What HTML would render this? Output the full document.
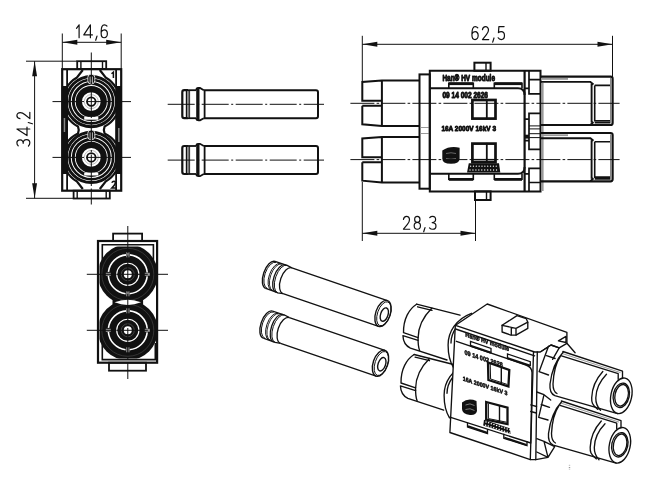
<!DOCTYPE html><html><head><meta charset="utf-8"><style>html,body{margin:0;padding:0;background:#fff;}svg{display:block;filter:grayscale(100%);}</style></head><body><svg width="650" height="487" viewBox="0 0 650 487"><rect x="0" y="0" width="650" height="487" fill="#fff"/>
<line x1="62.3" y1="33.5" x2="62.3" y2="69" stroke="#111" stroke-width="1.0" />
<line x1="121.2" y1="33.5" x2="121.2" y2="69" stroke="#111" stroke-width="1.0" />
<line x1="62.3" y1="42.3" x2="121.2" y2="42.3" stroke="#111" stroke-width="1.0" />
<polygon points="62.3,42.3 77.30,39.85 77.30,44.75" fill="#111"/>
<polygon points="121.2,42.3 106.20,44.75 106.20,39.85" fill="#111"/>
<g transform="translate(0,24.5)" fill="none" stroke="#111" stroke-width="1.2" stroke-linecap="round" stroke-linejoin="round"><path transform="translate(76.5,0.3) scale(1.0,0.98)" d="M0,3.6 L2.6,0 L2.6,13.2" vector-effect="non-scaling-stroke"/><path transform="translate(83.8,0.3) scale(1.0,0.98)" d="M6.6,13.2 L6.6,0 L0,10.3 L8.6,10.3" vector-effect="non-scaling-stroke"/><path transform="translate(95.6,0.3) scale(1.0,0.98)" d="M1.4,11.6 L0.1,15.8" vector-effect="non-scaling-stroke"/><path transform="translate(100.8,0.3) scale(0.9,0.98)" d="M6.9,1.3 C6.2,0.4 5.2,0 4.0,0 C1.6,0 0.4,2.6 0.4,6.8 L0.4,8.8 C0.4,11.8 1.8,13.2 3.8,13.2 C5.9,13.2 7.3,11.7 7.3,9.2 C7.3,6.8 5.9,5.2 3.9,5.2 C2.3,5.2 1.0,6.1 0.4,7.6" vector-effect="non-scaling-stroke"/></g>
<line x1="26" y1="61.2" x2="77" y2="61.2" stroke="#111" stroke-width="1.0" />
<line x1="26" y1="198.3" x2="73.5" y2="198.3" stroke="#111" stroke-width="1.0" />
<line x1="34.6" y1="61.2" x2="34.6" y2="198.3" stroke="#111" stroke-width="1.0" />
<polygon points="34.6,61.2 37.05,76.20 32.15,76.20" fill="#111"/>
<polygon points="34.6,198.3 32.15,183.30 37.05,183.30" fill="#111"/>
<g transform="translate(16.6,146.5) rotate(-90)" fill="none" stroke="#111" stroke-width="1.2" stroke-linecap="round" stroke-linejoin="round"><path transform="translate(0.3,0.3) scale(0.9,0.98)" d="M0.5,1.3 C1.3,0.4 2.5,0 3.7,0 C5.7,0 7.0,1.3 7.0,3.3 C7.0,5.3 5.6,6.4 3.2,6.4 C5.9,6.4 7.4,7.8 7.4,9.8 C7.4,11.9 5.9,13.2 3.7,13.2 C2.3,13.2 1.1,12.7 0.2,11.8" vector-effect="non-scaling-stroke"/><path transform="translate(10.9,0.3) scale(1.0,0.98)" d="M6.6,13.2 L6.6,0 L0,10.3 L8.6,10.3" vector-effect="non-scaling-stroke"/><path transform="translate(22.6,0.3) scale(1.0,0.98)" d="M1.4,11.6 L0.1,15.8" vector-effect="non-scaling-stroke"/><path transform="translate(27.5,0.3) scale(0.9,0.98)" d="M0.4,3.1 C0.7,1.1 2.0,0 3.8,0 C5.8,0 7.1,1.4 7.1,3.5 C7.1,5.2 6.4,6.5 4.8,8.3 L0.4,13.2 L7.4,13.2" vector-effect="non-scaling-stroke"/></g>
<rect x="77.2" y="61.2" width="29" height="7.8" fill="none" stroke="#111" stroke-width="1.8"/>
<line x1="80.9" y1="61.2" x2="80.9" y2="69" stroke="#111" stroke-width="1.4" />
<line x1="102.5" y1="61.2" x2="102.5" y2="69" stroke="#111" stroke-width="1.4" />
<rect x="73.6" y="190.7" width="36.2" height="7.8" fill="none" stroke="#111" stroke-width="1.8"/>
<line x1="77.2" y1="190.7" x2="77.2" y2="198.5" stroke="#111" stroke-width="1.4" />
<line x1="106.2" y1="190.7" x2="106.2" y2="198.5" stroke="#111" stroke-width="1.4" />
<rect x="61.8" y="86" width="5.5" height="88" fill="#111"/>
<rect x="115.9" y="86" width="5.5" height="88" fill="#111"/>
<rect x="63.6" y="118" width="1.6" height="14" fill="#888"/><rect x="118" y="128" width="1.6" height="14" fill="#888"/>
<rect x="62.2" y="69.2" width="59" height="121.5" fill="none" stroke="#111" stroke-width="2.2"/>
<line x1="67.1" y1="69.2" x2="67.1" y2="190.7" stroke="#111" stroke-width="1.8" />
<line x1="116.1" y1="69.2" x2="116.1" y2="190.7" stroke="#111" stroke-width="1.8" />
<path d="M82.8,70 L77,77.5 A28,28 0 0 0 66.5,88 M66.5,115.5 A28,28 0 0 0 78,126.5 Q79.5,130 78,133.5 A28,28 0 0 0 66.5,143.3 M66.5,171 A28,28 0 0 0 77,181.5 L82.8,189 M99.8,70 L105.6,77.5 A28,28 0 0 1 116.1,88 M116.1,115.5 A28,28 0 0 1 104.6,126.5 Q103.1,130 104.6,133.5 A28,28 0 0 1 116.1,143.3 M116.1,171 A28,28 0 0 1 105.6,181.5 L99.8,189" fill="none" stroke="#111" stroke-width="2.2"/>
<circle cx="91.3" cy="101.6" r="25.2" fill="none" stroke="#111" stroke-width="3"/>
<circle cx="91.3" cy="101.6" r="21.8" fill="none" stroke="#111" stroke-width="2.6"/>
<circle cx="91.3" cy="101.6" r="18" fill="none" stroke="#111" stroke-width="3"/>
<circle cx="91.3" cy="101.6" r="12.5" fill="none" stroke="#111" stroke-width="6.2"/>
<circle cx="91.3" cy="101.6" r="7" fill="none" stroke="#bbb" stroke-width="1"/>
<circle cx="91.3" cy="101.6" r="4.3" fill="none" stroke="#111" stroke-width="1.8"/>
<rect x="87.8" y="74.19999999999999" width="7" height="9.8" rx="3.3" fill="#111" stroke="#fff" stroke-width="0.8"/>
<rect x="89.6" y="76.6" width="1.2" height="6.5" fill="#aaa"/><rect x="91.8" y="76.6" width="1.2" height="6.5" fill="#aaa"/>
<rect x="84.2" y="116.89999999999999" width="14.1" height="2.8" fill="#fff"/>
<circle cx="91.3" cy="157.4" r="25.2" fill="none" stroke="#111" stroke-width="3"/>
<circle cx="91.3" cy="157.4" r="21.8" fill="none" stroke="#111" stroke-width="2.6"/>
<circle cx="91.3" cy="157.4" r="18" fill="none" stroke="#111" stroke-width="3"/>
<circle cx="91.3" cy="157.4" r="12.5" fill="none" stroke="#111" stroke-width="6.2"/>
<circle cx="91.3" cy="157.4" r="7" fill="none" stroke="#bbb" stroke-width="1"/>
<circle cx="91.3" cy="157.4" r="4.3" fill="none" stroke="#111" stroke-width="1.8"/>
<rect x="87.8" y="130.0" width="7" height="9.8" rx="3.3" fill="#111" stroke="#fff" stroke-width="0.8"/>
<rect x="89.6" y="132.4" width="1.2" height="6.5" fill="#aaa"/><rect x="91.8" y="132.4" width="1.2" height="6.5" fill="#aaa"/>
<rect x="84.2" y="172.70000000000002" width="14.1" height="2.8" fill="#fff"/>
<path d="M111.5,73.8 L113.4,72.2 L113.4,78" fill="none" stroke="#111" stroke-width="1.5"/>
<path d="M111.8,182.8 Q112.5,181.2 114,181.2 Q115.6,181.4 115.4,183 Q115,184.8 111.8,188 L115.8,188" fill="none" stroke="#111" stroke-width="1.5"/>
<line x1="91.3" y1="52.5" x2="91.3" y2="204.5" stroke="#111" stroke-width="1.0" stroke-dasharray="27 2.5 2 2.5"/>
<line x1="52.5" y1="101.6" x2="131" y2="101.6" stroke="#111" stroke-width="1.0" stroke-dasharray="27 2.5 2 2.5"/>
<line x1="52.5" y1="157.4" x2="131" y2="157.4" stroke="#111" stroke-width="1.0" stroke-dasharray="27 2.5 2 2.5"/>
<g transform="translate(0,0.0)" fill="none" stroke="#111">
<path d="M188,90.2 L184.2,90.2 Q182.3,90.2 182.3,92.2 L182.3,116.3 Q182.3,118.2 184.2,118.2 L188,118.2" stroke-width="2.2"/>
<line x1="186.5" y1="90.2" x2="186.5" y2="118.2" stroke-width="1.4"/>
<rect x="187.3" y="91" width="1.8" height="26.4" fill="#777" stroke="none"/>
<line x1="189.6" y1="90.2" x2="189.6" y2="118.2" stroke-width="0.9"/>
<line x1="188" y1="90.2" x2="196" y2="90.2" stroke-width="1.8"/><line x1="188" y1="118.2" x2="196" y2="118.2" stroke-width="1.8"/>
<path d="M196.5,90.2 L196.5,89 Q197,88 198.5,88 L200,88 L203.8,90.2 M196.5,118.2 L196.5,119.4 Q197,120.4 198.5,120.4 L200,120.4 L203.8,118.2" stroke-width="1.8"/>
<rect x="196.2" y="88" width="3.3" height="32.4" fill="#111" stroke="none"/>
<line x1="204.6" y1="90.2" x2="204.6" y2="118.2" stroke-width="1.8"/>
<path d="M203.8,90.2 L316,90.2 Q318,90.2 318,92.2 L318,116.2 Q318,118.2 316,118.2 L203.8,118.2" stroke-width="2"/>
</g>
<line x1="167.7" y1="104.3" x2="324" y2="104.3" stroke="#111" stroke-width="1.0" stroke-dasharray="27 2.5 2 2.5"/>
<g transform="translate(0,55.8)" fill="none" stroke="#111">
<path d="M188,90.2 L184.2,90.2 Q182.3,90.2 182.3,92.2 L182.3,116.3 Q182.3,118.2 184.2,118.2 L188,118.2" stroke-width="2.2"/>
<line x1="186.5" y1="90.2" x2="186.5" y2="118.2" stroke-width="1.4"/>
<rect x="187.3" y="91" width="1.8" height="26.4" fill="#777" stroke="none"/>
<line x1="189.6" y1="90.2" x2="189.6" y2="118.2" stroke-width="0.9"/>
<line x1="188" y1="90.2" x2="196" y2="90.2" stroke-width="1.8"/><line x1="188" y1="118.2" x2="196" y2="118.2" stroke-width="1.8"/>
<path d="M196.5,90.2 L196.5,89 Q197,88 198.5,88 L200,88 L203.8,90.2 M196.5,118.2 L196.5,119.4 Q197,120.4 198.5,120.4 L200,120.4 L203.8,118.2" stroke-width="1.8"/>
<rect x="196.2" y="88" width="3.3" height="32.4" fill="#111" stroke="none"/>
<line x1="204.6" y1="90.2" x2="204.6" y2="118.2" stroke-width="1.8"/>
<path d="M203.8,90.2 L316,90.2 Q318,90.2 318,92.2 L318,116.2 Q318,118.2 316,118.2 L203.8,118.2" stroke-width="2"/>
</g>
<line x1="167.7" y1="160.1" x2="324" y2="160.1" stroke="#111" stroke-width="1.0" stroke-dasharray="27 2.5 2 2.5"/>
<line x1="362.3" y1="35.8" x2="362.3" y2="81" stroke="#111" stroke-width="1.0" />
<line x1="612.5" y1="35.8" x2="612.5" y2="77" stroke="#111" stroke-width="1.0" />
<line x1="362.3" y1="44.3" x2="612.5" y2="44.3" stroke="#111" stroke-width="1.0" />
<polygon points="362.3,44.3 377.30,41.85 377.30,46.75" fill="#111"/>
<polygon points="612.5,44.3 597.50,46.75 597.50,41.85" fill="#111"/>
<g transform="translate(0,26.3)" fill="none" stroke="#111" stroke-width="1.2" stroke-linecap="round" stroke-linejoin="round"><path transform="translate(471.6,0.3) scale(0.9,0.98)" d="M6.9,1.3 C6.2,0.4 5.2,0 4.0,0 C1.6,0 0.4,2.6 0.4,6.8 L0.4,8.8 C0.4,11.8 1.8,13.2 3.8,13.2 C5.9,13.2 7.3,11.7 7.3,9.2 C7.3,6.8 5.9,5.2 3.9,5.2 C2.3,5.2 1.0,6.1 0.4,7.6" vector-effect="non-scaling-stroke"/><path transform="translate(482.1,0.3) scale(0.9,0.98)" d="M0.4,3.1 C0.7,1.1 2.0,0 3.8,0 C5.8,0 7.1,1.4 7.1,3.5 C7.1,5.2 6.4,6.5 4.8,8.3 L0.4,13.2 L7.4,13.2" vector-effect="non-scaling-stroke"/><path transform="translate(492.6,0.3) scale(1.0,0.98)" d="M1.4,11.6 L0.1,15.8" vector-effect="non-scaling-stroke"/><path transform="translate(497.90000000000003,0.3) scale(0.9,0.98)" d="M6.9,0 L1.1,0 L0.6,6.2 C1.4,5.5 2.5,5.1 3.7,5.1 C5.9,5.1 7.3,6.7 7.3,9.1 C7.3,11.6 5.8,13.2 3.7,13.2 C2.2,13.2 1.0,12.6 0.3,11.4" vector-effect="non-scaling-stroke"/></g>
<line x1="362.3" y1="182" x2="362.3" y2="241" stroke="#111" stroke-width="1.0" />
<line x1="475.5" y1="200" x2="475.5" y2="241" stroke="#111" stroke-width="1.0" />
<line x1="362.3" y1="233.3" x2="475.5" y2="233.3" stroke="#111" stroke-width="1.0" />
<polygon points="362.3,233.3 377.30,230.85 377.30,235.75" fill="#111"/>
<polygon points="475.5,233.3 460.50,235.75 460.50,230.85" fill="#111"/>
<g transform="translate(0,216)" fill="none" stroke="#111" stroke-width="1.2" stroke-linecap="round" stroke-linejoin="round"><path transform="translate(403.1,0.3) scale(0.9,0.98)" d="M0.4,3.1 C0.7,1.1 2.0,0 3.8,0 C5.8,0 7.1,1.4 7.1,3.5 C7.1,5.2 6.4,6.5 4.8,8.3 L0.4,13.2 L7.4,13.2" vector-effect="non-scaling-stroke"/><path transform="translate(413.90000000000003,0.3) scale(0.95,0.98)" d="M3.6,6.2 C1.9,6.2 0.8,5.1 0.8,3.2 C0.8,1.2 1.9,0 3.6,0 C5.3,0 6.4,1.2 6.4,3.2 C6.4,5.1 5.3,6.2 3.6,6.2 C1.6,6.2 0.3,7.5 0.3,9.6 C0.3,11.8 1.6,13.2 3.6,13.2 C5.6,13.2 6.9,11.8 6.9,9.6 C6.9,7.5 5.6,6.2 3.6,6.2 Z" vector-effect="non-scaling-stroke"/><path transform="translate(423.6,0.3) scale(1.0,0.98)" d="M1.4,11.6 L0.1,15.8" vector-effect="non-scaling-stroke"/><path transform="translate(429.3,0.3) scale(0.9,0.98)" d="M0.5,1.3 C1.3,0.4 2.5,0 3.7,0 C5.7,0 7.0,1.3 7.0,3.3 C7.0,5.3 5.6,6.4 3.2,6.4 C5.9,6.4 7.4,7.8 7.4,9.8 C7.4,11.9 5.9,13.2 3.7,13.2 C2.3,13.2 1.1,12.7 0.2,11.8" vector-effect="non-scaling-stroke"/></g>
<path d="M419,80.5 L381.9,80.5 L362.3,82.0 L362.3,100.8 L381.9,100.8 M362.3,105.8 L381.9,105.8 M362.3,105.8 L362.3,124.3 L381.9,126.1 L419,126.1 M381.9,80.5 L381.9,126.1" fill="none" stroke="#111" stroke-width="2"/>
<path d="M419,136.89999999999998 L381.9,136.89999999999998 L362.3,138.39999999999998 L362.3,157.2 L381.9,157.2 M362.3,162.2 L381.9,162.2 M362.3,162.2 L362.3,180.7 L381.9,182.5 L419,182.5 M381.9,136.89999999999998 L381.9,182.5" fill="none" stroke="#111" stroke-width="2"/>
<rect x="419.5" y="74.4" width="10.3" height="114.3" fill="none" stroke="#111" stroke-width="2"/>
<path d="M420.5,127.5 H429 M420.5,133.5 H429" stroke="#999" stroke-width="1"/>
<path d="M429.8,70.7 L540.5,70.7 L540.5,191.4 L429.8,191.4 Z" fill="none" stroke="#111" stroke-width="2"/>
<line x1="524.6" y1="70.7" x2="524.6" y2="191.4" stroke="#111" stroke-width="2.2" />
<path d="M529,70.7 V93.8 H540.3 M529,79.6 H540.3 M524.6,88.3 H529 M540.3,113.3 H529 V149.3 H540.3 M524.6,119.1 H529 M524.6,140.6 H529 M540.3,168.3 H529 V191.4 M529,182.5 H540.3 M524.6,173.8 H529" fill="none" stroke="#111" stroke-width="1.7"/>
<rect x="524.6" y="134.7" width="4.4" height="3.9" fill="#111"/>
<line x1="529" y1="125.9" x2="540.3" y2="125.9" stroke="#111" stroke-width="1.0" />
<line x1="529" y1="128.9" x2="540.3" y2="128.9" stroke="#111" stroke-width="1.0" />
<line x1="529" y1="133.7" x2="540.3" y2="133.7" stroke="#111" stroke-width="1.0" />
<line x1="529" y1="137.6" x2="540.3" y2="137.6" stroke="#111" stroke-width="1.0" />
<rect x="541.3" y="83" width="2.3" height="108" fill="#999"/>
<rect x="474.4" y="62.7" width="16.2" height="8" fill="none" stroke="#111" stroke-width="2" stroke-width="1.6"/>
<line x1="486" y1="62.7" x2="486" y2="70.7" stroke="#111" stroke-width="1.4" />
<rect x="475" y="191.4" width="15.6" height="8.6" fill="none" stroke="#111" stroke-width="2" stroke-width="1.6"/>
<line x1="486.5" y1="191.4" x2="486.5" y2="200" stroke="#111" stroke-width="1.4" />
<path d="M429.8,88.2 L518,88.2 Q524.6,88.2 524.6,95 M429.8,173.8 L518,173.8 Q524.6,173.8 524.6,167" fill="none" stroke="#111" stroke-width="2"/>
<path d="M448.8,88.2 V83.3 H473.3 V88.2" fill="none" stroke="#111" stroke-width="1.6"/><rect x="448.8" y="82.3" width="24.5" height="2.8" fill="#111"/>
<path d="M448.8,173.8 V179.2 H473.3 V173.8" fill="none" stroke="#111" stroke-width="1.6"/><rect x="448.8" y="178" width="24.5" height="2.8" fill="#111"/>
<path d="M494.3,88.2 V83.3 H522 V88.2" fill="none" stroke="#111" stroke-width="1.6"/><rect x="494.3" y="82.3" width="27.69999999999999" height="2.8" fill="#111"/>
<path d="M494.3,173.8 V179.2 H522 V173.8" fill="none" stroke="#111" stroke-width="1.6"/><rect x="494.3" y="178" width="27.69999999999999" height="2.8" fill="#111"/>
<rect x="472.4" y="100.0" width="23.1" height="18.6" fill="none" stroke="#111" stroke-width="2.7"/>
<line x1="486.8" y1="99.3" x2="486.8" y2="119.1" stroke="#111" stroke-width="1.8" />
<rect x="472.4" y="143.6" width="23.1" height="18.6" fill="none" stroke="#111" stroke-width="2.7"/>
<line x1="486.8" y1="142.9" x2="486.8" y2="162.70000000000002" stroke="#111" stroke-width="1.8" />
<rect x="472.3" y="158.9" width="23.3" height="1.4" fill="#111"/>
<g font-family="Liberation Sans, sans-serif" font-weight="bold" fill="#111" stroke="#111" stroke-width="0.9" stroke-linejoin="round"><text x="442.4" y="81.1" font-size="8.2" textLength="52.6" lengthAdjust="spacingAndGlyphs">Han® HV module</text><text x="442.4" y="98.3" font-size="8.2" textLength="45.6" lengthAdjust="spacingAndGlyphs">09 14 002 2626</text><text x="441.4" y="130.6" font-size="8" textLength="54.6" lengthAdjust="spacingAndGlyphs">16A 2000V 16kV 3</text></g>
<path d="M442.3,150.5 Q450,145.5 459.6,147.8 L459.6,158.5 Q459.6,163.8 451,163.8 Q442.3,163.8 442.3,158.5 Z" fill="#111"/>
<path d="M446,153.5 Q451,152 456,153.5 M446,158.5 Q451,160 456,158.5" fill="none" stroke="#666" stroke-width="1"/>
<polygon points="468.8,163.2 499,163.2 500.3,172.4 467,172.4" fill="#111"/>
<circle cx="470.60" cy="166.2" r="0.65" fill="#fff"/><circle cx="470.00" cy="170.0" r="0.65" fill="#fff"/><circle cx="473.45" cy="166.2" r="0.65" fill="#fff"/><circle cx="472.95" cy="170.0" r="0.65" fill="#fff"/><circle cx="476.30" cy="166.2" r="0.65" fill="#fff"/><circle cx="475.90" cy="170.0" r="0.65" fill="#fff"/><circle cx="479.15" cy="166.2" r="0.65" fill="#fff"/><circle cx="478.85" cy="170.0" r="0.65" fill="#fff"/><circle cx="482.00" cy="166.2" r="0.65" fill="#fff"/><circle cx="481.80" cy="170.0" r="0.65" fill="#fff"/><circle cx="484.85" cy="166.2" r="0.65" fill="#fff"/><circle cx="484.75" cy="170.0" r="0.65" fill="#fff"/><circle cx="487.70" cy="166.2" r="0.65" fill="#fff"/><circle cx="487.70" cy="170.0" r="0.65" fill="#fff"/><circle cx="490.55" cy="166.2" r="0.65" fill="#fff"/><circle cx="490.65" cy="170.0" r="0.65" fill="#fff"/><circle cx="493.40" cy="166.2" r="0.65" fill="#fff"/><circle cx="493.60" cy="170.0" r="0.65" fill="#fff"/><circle cx="496.25" cy="166.2" r="0.65" fill="#fff"/><circle cx="496.55" cy="170.0" r="0.65" fill="#fff"/>
<g transform="translate(0,0.0)">
<rect x="541" y="78" width="27" height="1.8" fill="#999"/>
<path d="M540.3,76.7 L610.6,76.7 Q612.6,76.7 612.6,78.7 L612.6,123 Q612.6,125 610.6,125 L540.3,125" fill="none" stroke="#111" stroke-width="2.2"/>
<path d="M540.3,81.9 L590.4,81.9 L593.5,84.4 M591.6,84 V122.5 M590.4,125 L593.5,122" fill="none" stroke="#111" stroke-width="1.9"/>
<path d="M594.7,85.4 H610.5 M594.7,85.4 V120.8 H610.5 M594.7,122.6 H610.5" fill="none" stroke="#111" stroke-width="1.6"/>
<rect x="610" y="78" width="1.6" height="45" fill="#888"/>
</g>
<g transform="translate(0,56.3)">
<rect x="541" y="78" width="27" height="1.8" fill="#999"/>
<path d="M540.3,76.7 L610.6,76.7 Q612.6,76.7 612.6,78.7 L612.6,123 Q612.6,125 610.6,125 L540.3,125" fill="none" stroke="#111" stroke-width="2.2"/>
<path d="M540.3,81.9 L590.4,81.9 L593.5,84.4 M591.6,84 V122.5 M590.4,125 L593.5,122" fill="none" stroke="#111" stroke-width="1.9"/>
<path d="M594.7,85.4 H610.5 M594.7,85.4 V120.8 H610.5 M594.7,122.6 H610.5" fill="none" stroke="#111" stroke-width="1.6"/>
<rect x="610" y="78" width="1.6" height="45" fill="#888"/>
</g>
<line x1="350.4" y1="103.3" x2="619.6" y2="103.3" stroke="#111" stroke-width="1.0" stroke-dasharray="24 2.2 2.6 2.2"/>
<line x1="350.4" y1="159.6" x2="619.6" y2="159.6" stroke="#111" stroke-width="1.0" stroke-dasharray="24 2.2 2.6 2.2"/>
<defs><clipPath id="cd1"><rect x="99.5" y="246.5" width="56.5" height="53.6"/></clipPath><clipPath id="cd2"><rect x="99.5" y="302.6" width="56.5" height="56"/></clipPath></defs>
<g>
<circle cx="127.8" cy="274.3" r="30" fill="#111" clip-path="url(#cd1)"/>
<circle cx="127.8" cy="330.3" r="30" fill="#111" clip-path="url(#cd2)"/>
<circle cx="127.8" cy="274.3" r="26" fill="none" stroke="#444" stroke-width="0.7"/><circle cx="127.8" cy="330.3" r="26" fill="none" stroke="#444" stroke-width="0.7"/>
<path d="M112.5,298 Q127.8,304 143.1,298 L143.1,307 Q127.8,301 112.5,307 Z" fill="#111"/>
<path d="M114.5,302.3 Q127.8,297 141.1,302.3 Q127.8,307.6 114.5,302.3 Z" fill="#fff"/>
</g>
<circle cx="127.8" cy="274.3" r="19.5" fill="none" stroke="#fff" stroke-width="1.6" stroke-dasharray="26.6 4 26.6 4 26.6 4 26.6 4" stroke-dashoffset="-2" transform="rotate(-90 127.8 274.3)"/>
<circle cx="127.8" cy="274.3" r="11.1" fill="none" stroke="#fff" stroke-width="1.1"/>
<circle cx="127.8" cy="274.3" r="6.5" fill="none" stroke="#444" stroke-width="1"/>
<circle cx="127.8" cy="274.3" r="4" fill="#fff"/>
<rect x="126.0" y="252.3" width="3.6" height="5" fill="#777"/>
<rect x="126.0" y="291.3" width="3.6" height="5" fill="#777"/>
<rect x="105.8" y="272.8" width="5" height="3" fill="#999"/>
<rect x="144.8" y="272.8" width="5" height="3" fill="#999"/>
<circle cx="127.8" cy="330.3" r="19.5" fill="none" stroke="#fff" stroke-width="1.6" stroke-dasharray="26.6 4 26.6 4 26.6 4 26.6 4" stroke-dashoffset="-2" transform="rotate(-90 127.8 330.3)"/>
<circle cx="127.8" cy="330.3" r="11.1" fill="none" stroke="#fff" stroke-width="1.1"/>
<circle cx="127.8" cy="330.3" r="6.5" fill="none" stroke="#444" stroke-width="1"/>
<circle cx="127.8" cy="330.3" r="4" fill="#fff"/>
<rect x="126.0" y="308.3" width="3.6" height="5" fill="#777"/>
<rect x="126.0" y="347.3" width="3.6" height="5" fill="#777"/>
<rect x="105.8" y="328.8" width="5" height="3" fill="#999"/>
<rect x="144.8" y="328.8" width="5" height="3" fill="#999"/>
<rect x="113.1" y="233.6" width="29" height="7.4" fill="none" stroke="#111" stroke-width="1.8"/>
<rect x="109" y="362.7" width="37" height="8" fill="none" stroke="#111" stroke-width="1.8"/>
<rect x="98" y="241" width="59.1" height="121.7" fill="none" stroke="#111" stroke-width="2.2"/>
<path d="M102.3,262 L102.3,244.7 L153.4,244.7 L153.4,262 M102.3,343 L102.3,359.6 L155.3,359.6 L155.3,343" fill="none" stroke="#111" stroke-width="1.6"/>
<line x1="127.8" y1="226" x2="127.8" y2="379" stroke="#111" stroke-width="1.0" stroke-dasharray="27 2.5 2 2.5"/>
<line x1="86.8" y1="274.3" x2="168" y2="274.3" stroke="#111" stroke-width="1.0" stroke-dasharray="27 2.5 2 2.5"/>
<line x1="86.8" y1="330.3" x2="168" y2="330.3" stroke="#111" stroke-width="1.0" stroke-dasharray="27 2.5 2 2.5"/>
<g transform="translate(383,313.5) rotate(18.90)" fill="none" stroke="#111" stroke-width="1.3"><path d="M-101,-13.6 L0,-13.6 M-101,13.6 L0,13.6"/><ellipse cx="0" cy="0" rx="7.3" ry="13.6" stroke-width="1.4"/><ellipse cx="0.9" cy="0" rx="6.3" ry="12.5" stroke-width="0.9"/><ellipse cx="1.6" cy="0.6" rx="3.7" ry="7.0" stroke-width="1.4"/><path d="M-119,-14.3 A7,14.3 0 0 0 -119,14.3" stroke-width="1.4"/><path d="M-117.5,-13.8 A7,13.8 0 0 0 -117.5,13.8" stroke-width="0.9"/><path d="M-113,-14.0 A7,14.0 0 0 0 -113,14.0" stroke-width="0.9"/><path d="M-111.6,-14.0 A7,14.0 0 0 0 -111.6,14.0" stroke-width="0.8"/><path d="M-108,-14.5 A7,14.5 0 0 0 -108,14.5" stroke-width="1.3"/><path d="M-106.3,-14.5 A7,14.5 0 0 0 -106.3,14.5" stroke-width="0.9"/><path d="M-101,-13.6 A7,13.6 0 0 0 -101,13.6" stroke-width="1.3"/><path d="M-119,-14.3 L-108,-14.5 L-106.3,-14.5 L-101,-13.6 M-119,14.3 L-108,14.5 L-106.3,14.5 L-101,13.6"/></g>
<g transform="translate(380.5,363.2) rotate(18.90)" fill="none" stroke="#111" stroke-width="1.3"><path d="M-101,-13.6 L0,-13.6 M-101,13.6 L0,13.6"/><ellipse cx="0" cy="0" rx="7.3" ry="13.6" stroke-width="1.4"/><ellipse cx="0.9" cy="0" rx="6.3" ry="12.5" stroke-width="0.9"/><ellipse cx="1.6" cy="0.6" rx="3.7" ry="7.0" stroke-width="1.4"/><path d="M-119,-14.3 A7,14.3 0 0 0 -119,14.3" stroke-width="1.4"/><path d="M-117.5,-13.8 A7,13.8 0 0 0 -117.5,13.8" stroke-width="0.9"/><path d="M-113,-14.0 A7,14.0 0 0 0 -113,14.0" stroke-width="0.9"/><path d="M-111.6,-14.0 A7,14.0 0 0 0 -111.6,14.0" stroke-width="0.8"/><path d="M-108,-14.5 A7,14.5 0 0 0 -108,14.5" stroke-width="1.3"/><path d="M-106.3,-14.5 A7,14.5 0 0 0 -106.3,14.5" stroke-width="0.9"/><path d="M-101,-13.6 A7,13.6 0 0 0 -101,13.6" stroke-width="1.3"/><path d="M-119,-14.3 L-108,-14.5 L-106.3,-14.5 L-101,-13.6 M-119,14.3 L-108,14.5 L-106.3,14.5 L-101,13.6"/></g>
<g transform="translate(0,0)">
<path d="M416.6,304.2 C409,309 403.3,319 403.5,332.7 L418.1,337.6 M402.9,335.6 L418.1,340.3 M402.9,335.6 C403.2,342 406,346 410.4,348.1 L447,360" fill="none" stroke="#111" stroke-width="1.35" stroke-linejoin="round" stroke-linecap="round"/>
<path d="M416.6,304.2 L460,315.2 M417.6,306.8 L432,310.4" fill="none" stroke="#111" stroke-width="1.35" stroke-linejoin="round" stroke-linecap="round"/>
<path d="M432,308.1 C424,316 418.2,327 418.1,338 C418,344 418.6,348 419.6,350.4" fill="none" stroke="#111" stroke-width="1.35" stroke-linejoin="round" stroke-linecap="round"/>
</g>
<path d="M414,354 L452,364 L455,420 L440,412 L400,394 Z" fill="#fff"/>
<g transform="translate(-2.5,50.3)">
<path d="M416.6,304.2 C409,309 403.3,319 403.5,332.7 L418.1,337.6 M402.9,335.6 L418.1,340.3 M402.9,335.6 C403.2,342 406,346 410.4,348.1 L447,360" fill="none" stroke="#111" stroke-width="1.35" stroke-linejoin="round" stroke-linecap="round"/>
<path d="M416.6,304.2 L460,315.2 M417.6,306.8 L432,310.4" fill="none" stroke="#111" stroke-width="1.35" stroke-linejoin="round" stroke-linecap="round"/>
<path d="M432,308.1 C424,316 418.2,327 418.1,338 C418,344 418.6,348 419.6,350.4" fill="none" stroke="#111" stroke-width="1.35" stroke-linejoin="round" stroke-linecap="round"/>
</g>
<path transform="translate(0,0)" d="M471.5,313.3 C456,319 448,332 448.1,345 C448.1,356 450,362 453.5,367.6" fill="none" stroke="#111" stroke-width="1.35" stroke-linejoin="round" stroke-linecap="round" stroke-width="1.7"/>
<path transform="translate(0,0)" d="M471.5,315.6 C459,321 451,332 451,343" fill="none" stroke="#111" stroke-width="1.35" stroke-linejoin="round" stroke-linecap="round" stroke-width="1.1"/>
<path d="M449,369 L456,372 L452,420 L444,412 Z" fill="#fff"/>
<path transform="translate(-4,50.3)" d="M471.5,313.3 C456,319 448,332 448.1,345 C448.1,356 450,362 453.5,367.6" fill="none" stroke="#111" stroke-width="1.35" stroke-linejoin="round" stroke-linecap="round" stroke-width="1.7"/>
<path transform="translate(-4,50.3)" d="M471.5,315.6 C459,321 451,332 451,343" fill="none" stroke="#111" stroke-width="1.35" stroke-linejoin="round" stroke-linecap="round" stroke-width="1.1"/>
<path d="M455.5,325.3 L487.2,304 L566.9,332.3 L566.9,343.3 L575,352 L556,400 L562.8,450.3 L535,459.6 L529.9,459.6 L449.9,432.5 Z" fill="#fff"/>
<path d="M455.5,325.3 L487.2,304 L566.9,332.3 L566.9,343.3 L559.2,347.9 L551,345 L540.3,352 L534.6,352 Z" fill="#fff" fill="none" stroke="#111" stroke-width="1.35" stroke-linejoin="round" stroke-linecap="round" stroke-width="1.5"/>
<path d="M455.6,329 L534.6,355.8" fill="none" stroke="#111" stroke-width="1.35" stroke-linejoin="round" stroke-linecap="round"/>
<path d="M558.4,340.9 L566,336.4 L566,342.5 Z" fill="none" stroke="#111" stroke-width="1.35" stroke-linejoin="round" stroke-linecap="round"/>
<path d="M566.9,343.3 L575.1,352.8" fill="none" stroke="#111" stroke-width="1.35" stroke-linejoin="round" stroke-linecap="round"/>
<path d="M502.1,325.3 L517,315.6 L526.2,318.6 L527.8,322.2 L527.8,328.4 L516,335.1 L510.8,335.1 L502.1,332 Z" fill="#fff" fill="none" stroke="#111" stroke-width="1.35" stroke-linejoin="round" stroke-linecap="round"/>
<path d="M502.1,325.3 L516,328.4 L527.8,322.2 M516,328.4 L516,335.1 M511.3,327.5 L511.3,334.8" fill="none" stroke="#111" stroke-width="1.35" stroke-linejoin="round" stroke-linecap="round"/>
<path d="M455.3,325.6 L449.9,432.5 L530.3,459.6 L535.8,459.6" fill="none" stroke="#111" stroke-width="1.35" stroke-linejoin="round" stroke-linecap="round" stroke-width="1.5"/>
<path d="M533.5,352 L530.3,459.6" fill="none" stroke="#111" stroke-width="1.35" stroke-linejoin="round" stroke-linecap="round" stroke-width="1.5"/>
<path d="M456.4,341.3 L526,365 Q532.2,367.3 532,373 L530.8,442.5 M449.9,417.1 L530.8,443" fill="none" stroke="#111" stroke-width="1.35" stroke-linejoin="round" stroke-linecap="round"/>
<path d="M470.5,346.1 L470.5,341.5 L491,348.5 L491,353.1" fill="none" stroke="#111" stroke-width="1.3"/>
<path d="M470.5,345.7 L491,352.7" stroke="#111" stroke-width="2.2"/>
<path d="M507.5,358.6 L507.5,354 L530.3,361.6 L530.3,366.20000000000005" fill="none" stroke="#111" stroke-width="1.3"/>
<path d="M507.5,358.2 L530.3,365.8" stroke="#111" stroke-width="2.2"/>
<path d="M467.5,422.5 L467.5,427.0 L487.5,433.5 L487.5,429" fill="none" stroke="#111" stroke-width="1.3"/>
<path d="M468.0,426.2 L487.0,432.7" stroke="#111" stroke-width="1.8"/>
<path d="M503.8,433.8 L503.8,438.3 L527,445.7 L527,441.2" fill="none" stroke="#111" stroke-width="1.3"/>
<path d="M504.3,437.5 L526.5,444.9" stroke="#111" stroke-width="1.8"/>
<path d="M488,362.5 L509.3,370 L508.4,386.5 L488.4,380 Z" fill="none" stroke="#111" stroke-width="2.3"/>
<path d="M490.2,364.0 L490.59999999999997,379 L507.4,384.5" fill="none" stroke="#111" stroke-width="1"/>
<path d="M501.3,367.2 L501.3,384.3" stroke="#111" stroke-width="1.4"/>
<path d="M486.2,402 L507.5,407.6 L507.5,424.2 L486.2,419.6 Z" fill="none" stroke="#111" stroke-width="2.3"/>
<path d="M488.4,403.5 L488.4,418.6 L506.5,422.2" fill="none" stroke="#111" stroke-width="1"/>
<path d="M499.5,405.5 L499.5,422.5" stroke="#111" stroke-width="1.4"/>
<g font-family="Liberation Sans, sans-serif" font-weight="bold" fill="#111" stroke="#111" stroke-width="0.5"><text transform="translate(465.3,336.6) skewY(18.6)" font-size="6.4" textLength="43.6" lengthAdjust="spacingAndGlyphs">Han® HV module</text><text transform="translate(464.5,354.6) skewY(18.3)" font-size="6.6" textLength="38.3" lengthAdjust="spacingAndGlyphs">09 14 002 2626</text><text transform="translate(462.7,380.5) skewY(18.4)" font-size="6" textLength="44.7" lengthAdjust="spacingAndGlyphs">16A 2000V 16kV 3</text></g>
<path d="M462,402.5 Q468,397.5 476.5,401 L477,411 Q476,415.5 470,415 Q462,414 462,409 Z" fill="#111"/>
<path d="M465.5,405 Q470,402.5 474.5,405.5 M465.5,409.5 Q470,407.5 474.5,410.5" fill="none" stroke="#888" stroke-width="0.9"/>
<polygon points="484,419.8 509.6,428.2 510.8,434 483.2,425.4" fill="#111"/>
<circle cx="486.00" cy="422.00" r="0.75" fill="#fff"/><circle cx="485.60" cy="425.20" r="0.75" fill="#fff"/><circle cx="488.65" cy="422.87" r="0.75" fill="#fff"/><circle cx="488.30" cy="426.07" r="0.75" fill="#fff"/><circle cx="491.30" cy="423.74" r="0.75" fill="#fff"/><circle cx="491.00" cy="426.94" r="0.75" fill="#fff"/><circle cx="493.95" cy="424.61" r="0.75" fill="#fff"/><circle cx="493.70" cy="427.81" r="0.75" fill="#fff"/><circle cx="496.60" cy="425.48" r="0.75" fill="#fff"/><circle cx="496.40" cy="428.68" r="0.75" fill="#fff"/><circle cx="499.25" cy="426.35" r="0.75" fill="#fff"/><circle cx="499.10" cy="429.55" r="0.75" fill="#fff"/><circle cx="501.90" cy="427.22" r="0.75" fill="#fff"/><circle cx="501.80" cy="430.42" r="0.75" fill="#fff"/><circle cx="504.55" cy="428.09" r="0.75" fill="#fff"/><circle cx="504.50" cy="431.29" r="0.75" fill="#fff"/><circle cx="507.20" cy="428.96" r="0.75" fill="#fff"/><circle cx="507.20" cy="432.16" r="0.75" fill="#fff"/><circle cx="509.85" cy="429.83" r="0.75" fill="#fff"/><circle cx="509.90" cy="433.03" r="0.75" fill="#fff"/>
<path d="M537.3,352 L535.8,459.6" fill="none" stroke="#111" stroke-width="1.35" stroke-linejoin="round" stroke-linecap="round" stroke-width="1.4"/>
<path d="M541,351.5 L551,345 L559.2,347.9 L552.6,359.3 M548.5,346.2 L539.1,371.7 L548.5,375 M546.5,355.7 L555.1,358.5" fill="none" stroke="#111" stroke-width="1.35" stroke-linejoin="round" stroke-linecap="round"/>
<path d="M536.8,392 L544,394.7 L550.7,400 M544,394.7 L538.7,417.3 L548,420 M541.2,404.5 L549.5,407.3" fill="none" stroke="#111" stroke-width="1.35" stroke-linejoin="round" stroke-linecap="round"/>
<path d="M536.8,438.7 L544,441.3 L554.7,446.7 L548,457.3 L536.8,452 M544,441.3 L548,457.3 M535.8,459.6 L548,457.3" fill="none" stroke="#111" stroke-width="1.35" stroke-linejoin="round" stroke-linecap="round"/>
<path d="M530.8,404.9 L536.5,406.5 M530.7,411.5 L536.3,413" fill="none" stroke="#111" stroke-width="1.35" stroke-linejoin="round" stroke-linecap="round"/>
<g transform="translate(0,0)">
<path d="M562.9,351.5 L622.5,371.2 L631,388 L628,405 L617.6,413.7 L554.8,395.6 C549.5,392 548.5,383 552,374 C554,366 557,358 562.9,351.5 Z" fill="#fff"/>
<path d="M562.9,351.5 L622.5,371.2 L622.5,378 M561.5,355.8 L618.2,373.7 L618.2,379.2" fill="none" stroke="#111" stroke-width="1.35" stroke-linejoin="round" stroke-linecap="round" stroke-width="2"/>
<path d="M562.5,353.6 L620.5,372.6" stroke="#999" stroke-width="1"/>
<path d="M563.3,352 C556,360 551.5,372 550,384 C549.5,390 551,394 554.8,395.6 L617.6,413.7 M560.5,356 C555,364 553.5,374 553,384 C553,390 555,392.5 557,393.5" fill="none" stroke="#111" stroke-width="1.35" stroke-linejoin="round" stroke-linecap="round" stroke-width="1.4"/>
<path d="M602.8,371.5 C596,379 592,389 591.7,397.7 C591.5,402 592,405 597.9,409.4 M606.5,374.3 C600,381 596,390 595.8,398 C595.7,403 596.5,406 600.5,410.2" fill="none" stroke="#111" stroke-width="1.35" stroke-linejoin="round" stroke-linecap="round" stroke-width="1.3"/>
<ellipse cx="621.3" cy="395.8" rx="10.4" ry="18" transform="rotate(12 621.3 395.8)" fill="#fff" fill="none" stroke="#111" stroke-width="1.35" stroke-linejoin="round" stroke-linecap="round" stroke-width="1.7"/>
<ellipse cx="621.3" cy="395.3" rx="8" ry="12.3" transform="rotate(12 621.3 395.3)" fill="none" stroke="#111" stroke-width="1.35" stroke-linejoin="round" stroke-linecap="round" stroke-width="1.6"/>
<ellipse cx="621.6" cy="395.3" rx="6.6" ry="10.9" transform="rotate(12 621.6 395.3)" fill="none" stroke="#111" stroke-width="1.35" stroke-linejoin="round" stroke-linecap="round" stroke-width="0.9"/>
</g>
<g transform="translate(-1.5,49.5)">
<path d="M562.9,351.5 L622.5,371.2 L631,388 L628,405 L617.6,413.7 L554.8,395.6 C549.5,392 548.5,383 552,374 C554,366 557,358 562.9,351.5 Z" fill="#fff"/>
<path d="M562.9,351.5 L622.5,371.2 L622.5,378 M561.5,355.8 L618.2,373.7 L618.2,379.2" fill="none" stroke="#111" stroke-width="1.35" stroke-linejoin="round" stroke-linecap="round" stroke-width="2"/>
<path d="M562.5,353.6 L620.5,372.6" stroke="#999" stroke-width="1"/>
<path d="M563.3,352 C556,360 551.5,372 550,384 C549.5,390 551,394 554.8,395.6 L617.6,413.7 M560.5,356 C555,364 553.5,374 553,384 C553,390 555,392.5 557,393.5" fill="none" stroke="#111" stroke-width="1.35" stroke-linejoin="round" stroke-linecap="round" stroke-width="1.4"/>
<path d="M602.8,371.5 C596,379 592,389 591.7,397.7 C591.5,402 592,405 597.9,409.4 M606.5,374.3 C600,381 596,390 595.8,398 C595.7,403 596.5,406 600.5,410.2" fill="none" stroke="#111" stroke-width="1.35" stroke-linejoin="round" stroke-linecap="round" stroke-width="1.3"/>
<ellipse cx="621.3" cy="395.8" rx="10.4" ry="18" transform="rotate(12 621.3 395.8)" fill="#fff" fill="none" stroke="#111" stroke-width="1.35" stroke-linejoin="round" stroke-linecap="round" stroke-width="1.7"/>
<ellipse cx="621.3" cy="395.3" rx="8" ry="12.3" transform="rotate(12 621.3 395.3)" fill="none" stroke="#111" stroke-width="1.35" stroke-linejoin="round" stroke-linecap="round" stroke-width="1.6"/>
<ellipse cx="621.6" cy="395.3" rx="6.6" ry="10.9" transform="rotate(12 621.6 395.3)" fill="none" stroke="#111" stroke-width="1.35" stroke-linejoin="round" stroke-linecap="round" stroke-width="0.9"/>
</g>
<rect x="568.8" y="464.8" width="1.4" height="1" fill="#bbb"/><rect x="568.8" y="467" width="1.4" height="1.2" fill="#999"/><rect x="568.8" y="469" width="1.4" height="0.8" fill="#ccc"/></svg></body></html>
